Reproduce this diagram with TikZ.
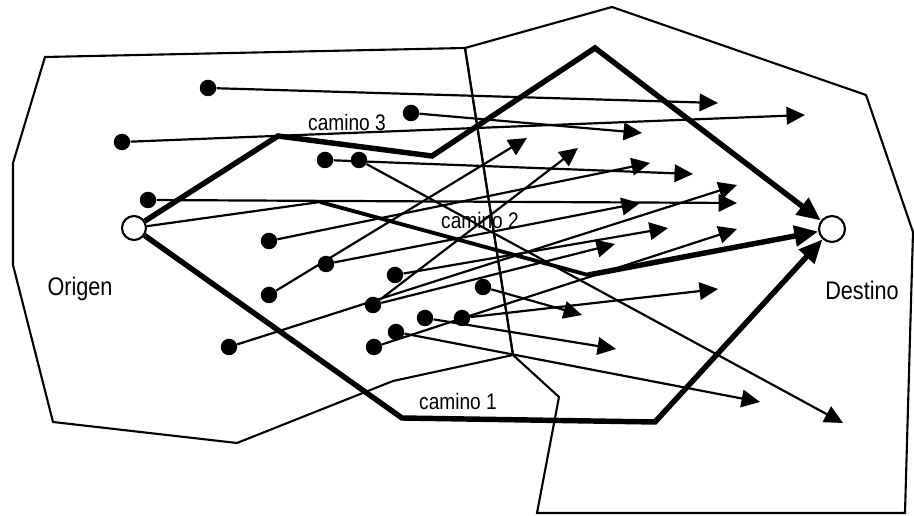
\documentclass[tikz,border=0pt]{standalone}
\usepackage{fontspec}
\newfontfamily\labelfont[FakeStretch=0.85]{Liberation Sans}
\usetikzlibrary{arrows.meta}
\begin{document}
\begin{tikzpicture}[x=0.02cm,y=-0.02cm,
  region/.style={line width=1.2pt, line join=miter},
  dot/.style={circle, fill=black, inner sep=0pt, minimum size=0.33cm},
  endpt/.style={circle, draw=black, fill=white, line width=1.2pt, inner sep=0pt},
  flow/.style={line width=1.25pt, -{Triangle[length=10.5pt,width=10pt]}},
  paththin/.style={line width=1.25pt},
  pathmid/.style={line width=2.2pt},
  patharrow/.style={line width=3.1pt, line join=miter, -{Triangle[length=13.5pt,width=11.5pt]}},
  lbl/.style={font=\labelfont\fontsize{14.5}{16}\selectfont, inner sep=0pt},
  plbl/.style={font=\labelfont\fontsize{12.8}{14}\selectfont, inner sep=0pt}
]
\useasboundingbox (0,0) rectangle (914,516);

% regions
\draw[region] (45,57) -- (465,48) -- (513,355) -- (393,381) -- (237,443) -- (53,422) -- (13,265) -- (13,163) -- cycle;
\draw[region] (465,48) -- (612,7) -- (866,95) -- (913,232) -- (905,513) -- (537,513) -- (559,397) -- (513,355) -- cycle;

% origin and destination
\node[endpt, minimum size=0.48cm] (orig) at (134,228) {};
\node[endpt, minimum size=0.52cm] (dest) at (832,229) {};

% dots
\node[dot] (d1) at (208,88) {};
\node[dot] (d2) at (411,113) {};
\node[dot] (d3) at (122,142) {};
\node[dot] (d4) at (325,160) {};
\node[dot] (d5) at (359,160) {};
\node[dot] (d6) at (148,200) {};
\node[dot] (d7) at (269,241) {};
\node[dot] (d8) at (326,264) {};
\node[dot] (d9) at (269,295) {};
\node[dot] (d10) at (395,275) {};
\node[dot] (d11) at (373,305) {};
\node[dot] (d12) at (229,347) {};
\node[dot] (d13) at (425,318) {};
\node[dot] (d14) at (396,332) {};
\node[dot] (d15) at (374,347) {};
\node[dot] (d16) at (462,318) {};
\node[dot] (d17) at (483,287) {};

% arrow tips
\coordinate (a1) at (718,103);
\coordinate (a2) at (805,115);
\coordinate (a3) at (642,133);
\coordinate (a4) at (527,138);
\coordinate (a5) at (578,148);
\coordinate (a6) at (650,163);
\coordinate (a7) at (693,174);
\coordinate (a8) at (737,185);
\coordinate (a9) at (640,203);
\coordinate (a10) at (737,203);
\coordinate (a11) at (668,228);
\coordinate (a12) at (615,244);
\coordinate (a13) at (737,229);
\coordinate (a15) at (718,289);
\coordinate (a16) at (582,315);
\coordinate (a17) at (616,349);
\coordinate (a18) at (760,402);
\coordinate (a19) at (843,423);

% thin flows
\draw[flow] (d1) -- (a1);
\draw[flow] (d3) -- (a2);
\draw[flow] (d2) -- (a3);
\draw[flow] (d9) -- (a4);
\draw[flow] (d11) -- (a5);
\draw[flow] (d7) -- (a6);
\draw[flow] (d4) -- (a7);
\draw[flow] (d12) -- (a8);
\draw[flow] (d8) -- (a9);
\draw[flow] (d6) -- (a10);
\draw[flow] (d10) -- (a11);
\draw[flow] (d11) -- (a12);
\draw[flow] (d15) -- (a13);
\draw[flow] (d16) -- (a15);
\draw[flow] (d17) -- (a16);
\draw[flow] (d13) -- (a17);
\draw[flow] (d14) -- (a18);
\draw[flow] (d5) -- (a19);

% paths
\coordinate (c3a) at (278,136);
\coordinate (c3b) at (432,156);
\coordinate (c3c) at (595,48);
\draw[patharrow] (orig) -- (c3a) -- (c3b) -- (c3c) -- (dest);

\coordinate (c2a) at (320,202);
\coordinate (c2b) at (588,275);
\draw[paththin] (orig) -- (c2a);
\draw[pathmid] (c2a) -- (c2b);
\draw[patharrow] (c2b) -- (dest);

\coordinate (c1a) at (402,418);
\coordinate (c1b) at (655,422);
\draw[patharrow] (orig) -- (c1a) -- (c1b) -- (dest);

% labels
\node[lbl] (origen) at (80,289) {Origen};
\node[lbl] (destino) at (862,290) {Destino};
\node[plbl] (cam3) at (347,122) {camino 3};
\node[plbl] (cam2) at (480,220) {camino 2};
\node[plbl] (cam1) at (458,401) {camino 1};
\end{tikzpicture}
\end{document}
